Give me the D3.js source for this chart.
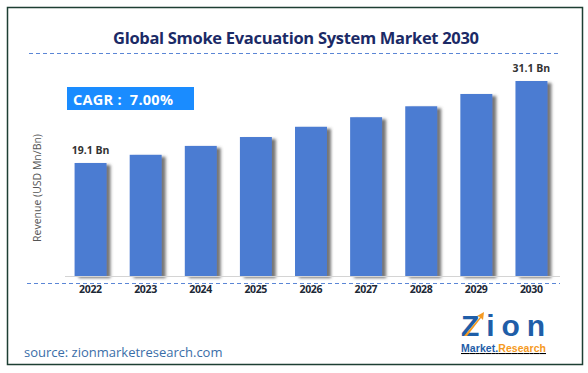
<!DOCTYPE html>
<html>
<head>
<meta charset="utf-8">
<script src="https://cdn.jsdelivr.net/npm/d3@7"></script>
<style>
  body { margin: 0; background: #fff; }
  svg { display: block; font-family: "Open Sans", "DejaVu Sans", sans-serif; }
</style>
</head>
<body>
<div id="wrapper"></div>
<script>
const years = ["2022", "2023", "2024", "2025", "2026", "2027", "2028", "2029", "2030"]
const revenue = [19.1, 20.3, 21.6, 22.9, 24.4, 25.8, 27.4, 29.2, 31.1]
const valueLabels = { "2022": "19.1 Bn", "2030": "31.1 Bn" }
const cagrText = "CAGR :  7.00%"
const titleText = "Global Smoke Evacuation System Market 2030"
const yTitle = "Revenue (USD Mn/Bn)"
const sourceText = "source: zionmarketresearch.com"

const width = 588
const height = 373

const svg = d3.select("#wrapper")
  .append("svg")
    .attr("width", width)
    .attr("height", height)

// shadow for the bars
const defs = svg.append("defs")
const shadow = defs.append("filter")
    .attr("id", "barShadow")
    .attr("x", "-20%").attr("y", "-10%")
    .attr("width", "160%").attr("height", "130%")
shadow.append("feDropShadow")
    .attr("dx", 4).attr("dy", 2)
    .attr("stdDeviation", 1.8)
    .attr("flood-color", "#555")
    .attr("flood-opacity", 0.8)

// frame
svg.append("rect")
    .attr("x", 7.5).attr("y", 7.5)
    .attr("width", 575).attr("height", 357)
    .attr("fill", "none")
    .attr("stroke", "#1d3f33")
    .attr("stroke-width", 1.5)

svg.append("text")
    .attr("x", 296).attr("y", 44)
    .attr("text-anchor", "middle")
    .attr("font-size", 16.5)
    .attr("font-weight", 700)
    .attr("fill", "#1b2a66")
    .attr("textLength", 366)
    .text(titleText)

const dashed = (y, x1, x2) => svg.append("line")
    .attr("x1", x1).attr("x2", x2)
    .attr("y1", y).attr("y2", y)
    .attr("stroke", "#5b86d6")
    .attr("stroke-width", 1)
    .attr("stroke-dasharray", "4,3")
dashed(53.5, 29, 560)
dashed(283.5, 27, 560)

const x = d3.scaleBand()
  .domain(years)
  .range([63, 559])
  .paddingInner(0.42)
  .paddingOuter(0.21)

const baseY = 276
const y = d3.scaleLinear()
  .domain([2.56, 31.1])
  .range([baseY, 81])

svg.append("g")
  .selectAll("rect")
  .data(years)
  .enter().append("rect")
    .attr("x", d => x(d))
    .attr("y", (d, i) => y(revenue[i]))
    .attr("width", x.bandwidth())
    .attr("height", (d, i) => baseY - y(revenue[i]))
    .attr("fill", "#4b7bd2")
    .attr("filter", "url(#barShadow)")

// baseline
svg.append("line")
    .attr("x1", 65).attr("x2", 560)
    .attr("y1", baseY + 0.5).attr("y2", baseY + 0.5)
    .attr("stroke", "#d4d4d4")

// x axis labels
const xAxis = d3.axisBottom(x).tickSize(0).tickPadding(0)
const axisG = svg.append("g")
    .attr("transform", `translate(0, ${286})`)
    .call(xAxis)
axisG.select(".domain").remove()
axisG.selectAll("text")
    .attr("font-size", 10.5)
    .attr("font-weight", 700)
    .attr("font-family", "\"Open Sans\", sans-serif")
    .attr("fill", "#1c2836")
    .attr("textLength", 23)

// value labels
svg.append("g")
  .selectAll("text")
  .data(years.filter(d => valueLabels[d]))
  .enter().append("text")
    .attr("x", d => x(d) + x.bandwidth() / 2)
    .attr("y", d => y(revenue[years.indexOf(d)]) - 9)
    .attr("text-anchor", "middle")
    .attr("font-size", 10.5)
    .attr("font-weight", 700)
    .attr("fill", "#333")
    .text(d => valueLabels[d])

// CAGR box
svg.append("rect")
    .attr("x", 67).attr("y", 87)
    .attr("width", 127).attr("height", 23)
    .attr("fill", "#1a8cff")
svg.append("text")
    .attr("x", 73).attr("y", 104.5)
    .attr("font-size", 14.5)
    .attr("font-weight", 700)
    .attr("fill", "#fff")
    .style("white-space", "pre")
    .attr("textLength", 100)
    .text(cagrText)

// y title
svg.append("text")
    .attr("transform", "translate(41, 188) rotate(-90)")
    .attr("text-anchor", "middle")
    .attr("font-size", 10.5)
    .attr("fill", "#555")
    .text(yTitle)

// source
svg.append("text")
    .attr("x", 24).attr("y", 357)
    .attr("font-size", 13)
    .attr("fill", "#3a6ea8")
    .text(sourceText)

// logo
const logo = svg.append("g").attr("transform", "translate(461, 310)")
logo.append("text")
    .attr("x", 0).attr("y", 26)
    .attr("font-size", 30)
    .attr("font-weight", 700)
    .attr("font-family", "\"Liberation Sans\", sans-serif")
    .attr("fill", "#1f5ea8")
    .attr("textLength", 84)
    .text("Zion")
logo.append("path")
    .attr("d", "M3,26 L19,7 L16,6 L23,2 L22,10 L20,8 L6,26 Z")
    .attr("fill", "#f59a23")
const mr = logo.append("text")
    .attr("x", 0).attr("y", 42)
    .attr("font-size", 10.5)
    .attr("font-weight", 700)
    .attr("font-family", "\"Liberation Sans\", sans-serif")
    .attr("text-decoration", "underline")
    .attr("textLength", 85)
mr.append("tspan").attr("fill", "#1f5ea8").text("Market.")
mr.append("tspan").attr("fill", "#f59a23").text("Research")
</script>
</body>
</html>
